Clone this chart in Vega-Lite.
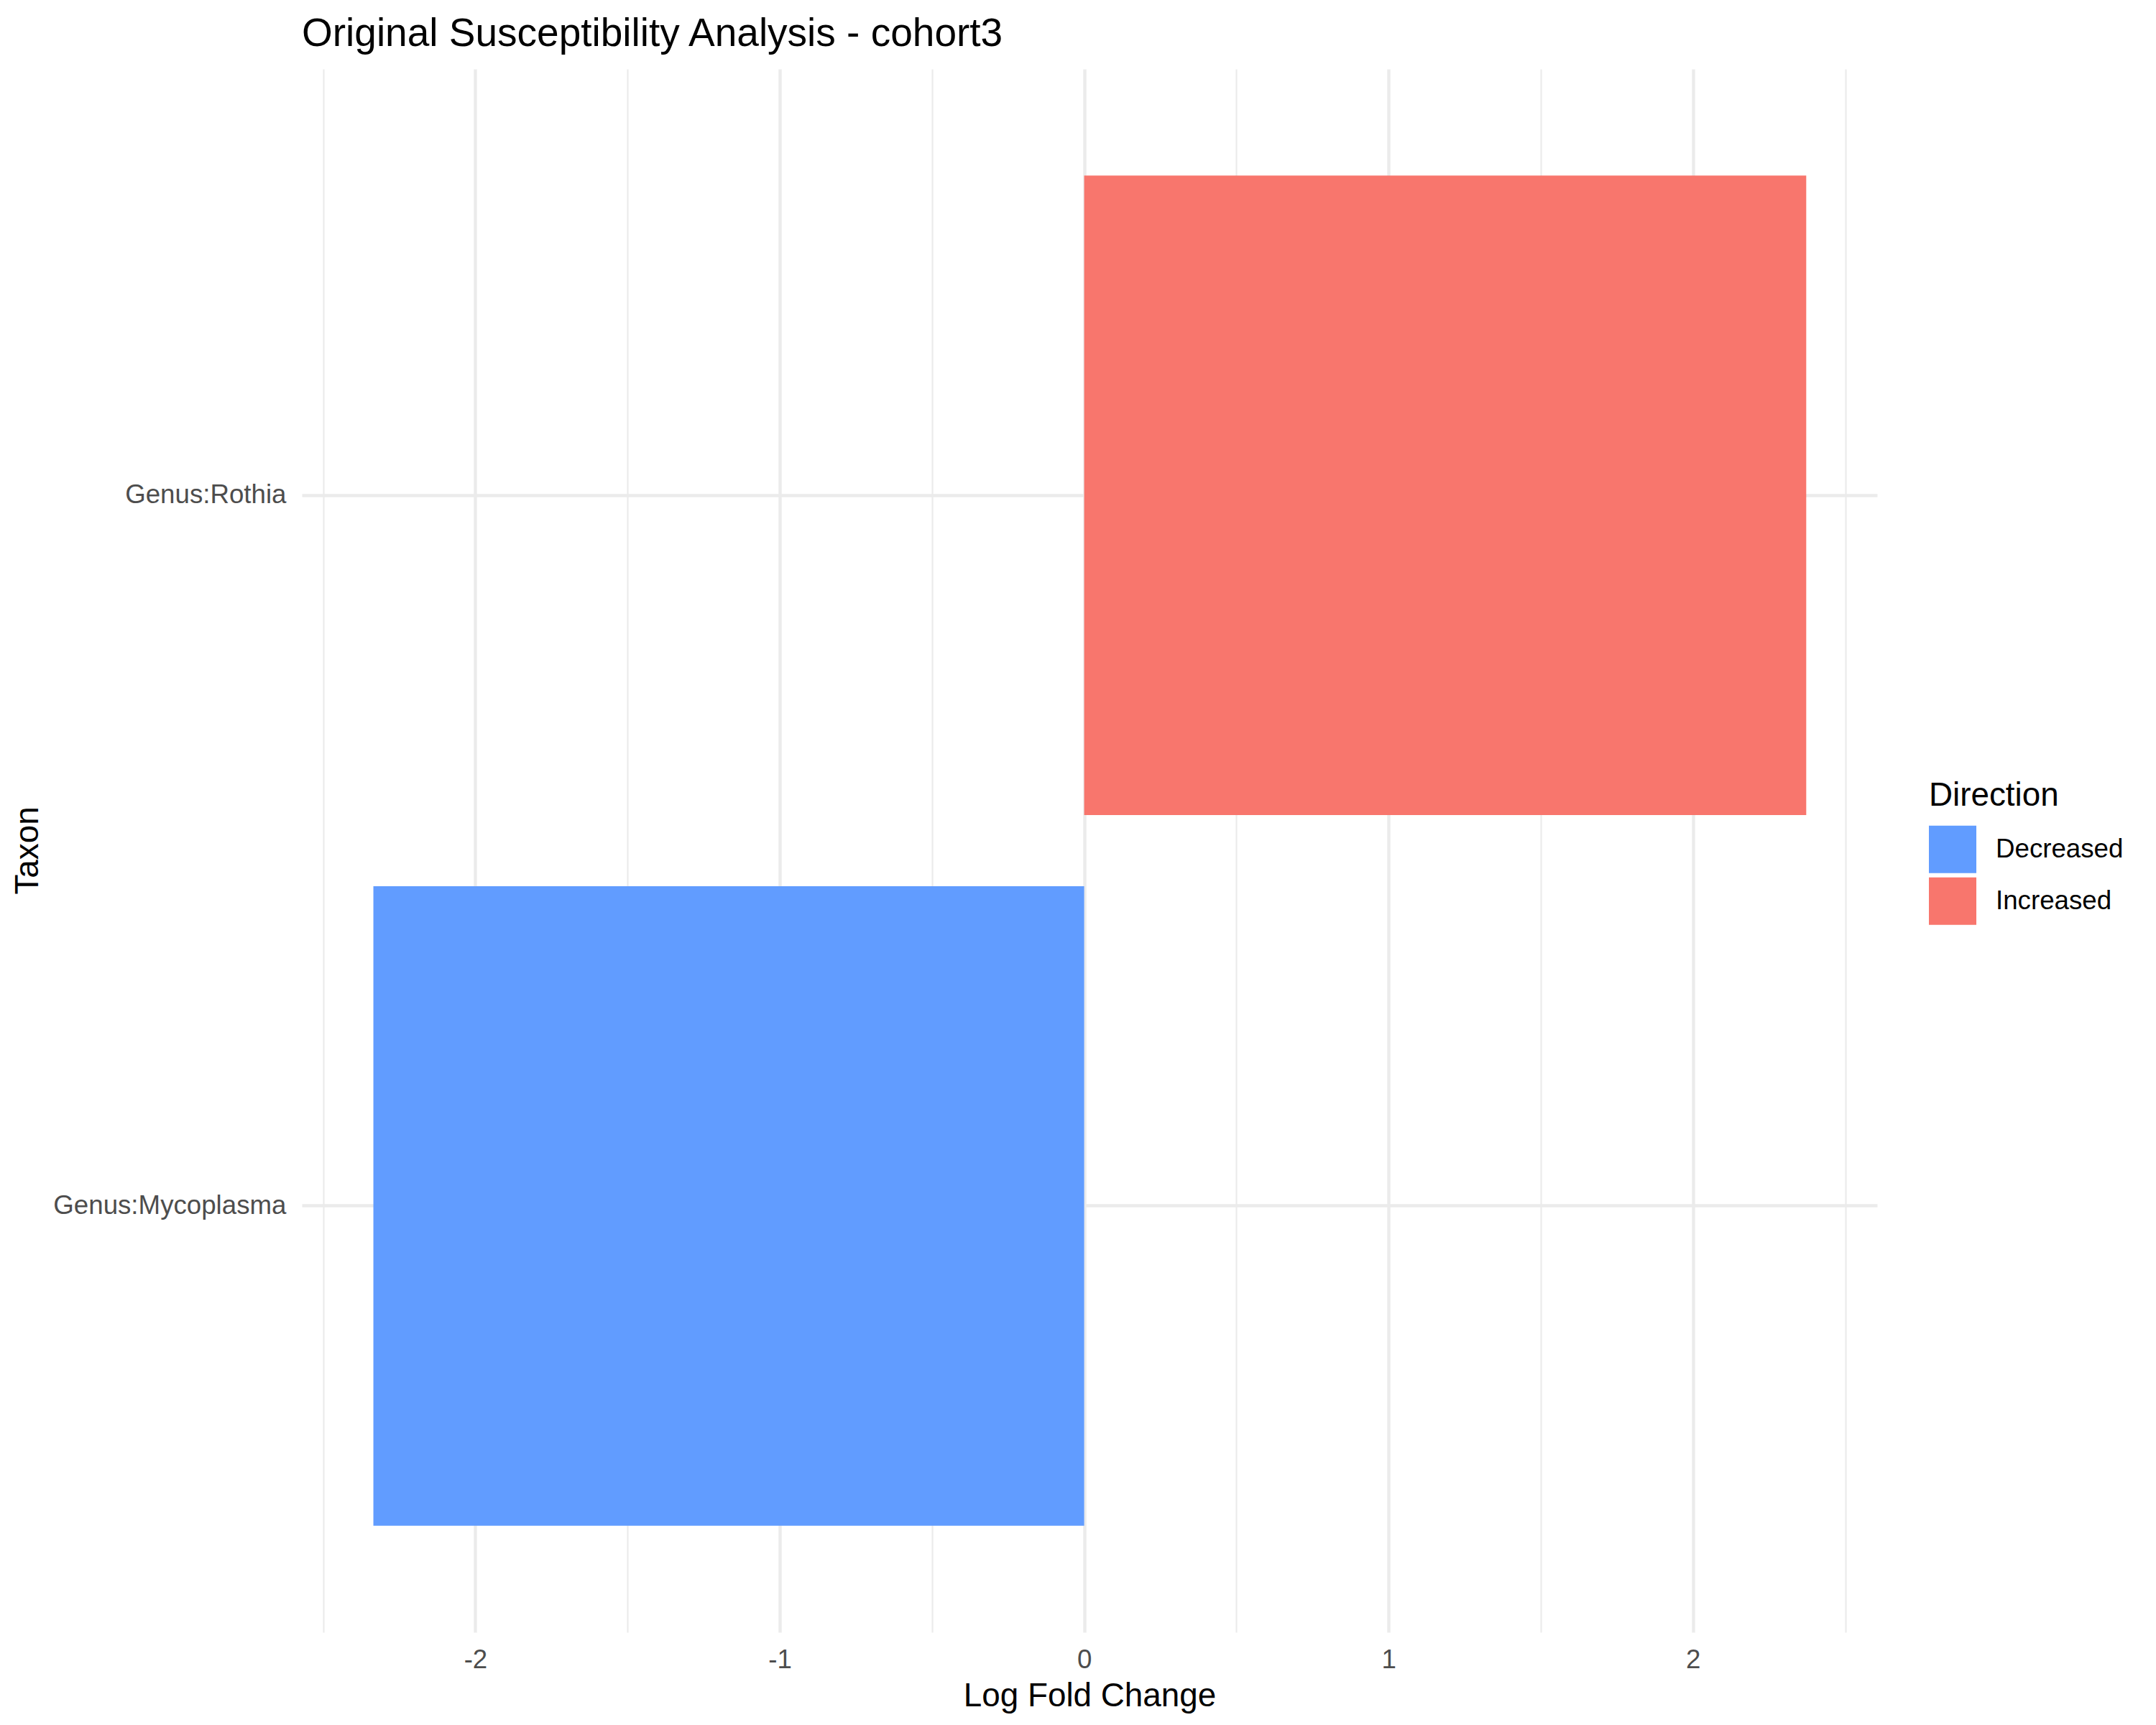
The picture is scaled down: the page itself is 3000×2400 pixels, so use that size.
{
  "$schema": "https://vega.github.io/schema/vega-lite/v6.json",
  "width": 2192,
  "height": 2175,
  "autosize": {"type": "none"},
  "padding": {"left": 420, "top": 96, "right": 388, "bottom": 129},
  "background": "white",
  "title": {
    "text": "Original Susceptibility Analysis - cohort3",
    "anchor": "start",
    "frame": "group",
    "font": "Liberation Sans",
    "fontSize": 55,
    "fontWeight": "normal",
    "color": "black",
    "baseline": "alphabetic",
    "offset": -23,
    "limit": 2000
  },
  "data": {
    "values": [
      {"taxon": "Genus:Rothia", "lfc": 2.372, "direction": "Increased"},
      {"taxon": "Genus:Mycoplasma", "lfc": -2.335, "direction": "Decreased"}
    ]
  },
  "mark": {"type": "bar"},
  "encoding": {
    "y": {
      "field": "taxon",
      "type": "nominal",
      "sort": ["Genus:Rothia", "Genus:Mycoplasma"],
      "scale": {"paddingInner": 0.1, "paddingOuter": 0.15},
      "axis": {
        "title": "Taxon",
        "grid": true,
        "gridColor": "#EBEBEB",
        "gridWidth": 4.4,
        "bandPosition": 0.5,
        "ticks": false,
        "domain": false,
        "labelFont": "Liberation Sans",
        "labelFontSize": 36.7,
        "labelColor": "#4D4D4D",
        "labelPadding": 22,
        "labelLimit": 1000,
        "titleFont": "Liberation Sans",
        "titleFontSize": 45.8,
        "titleFontWeight": "normal",
        "titleColor": "black",
        "titleBaseline": "middle",
        "titleX": -382,
        "titleY": 1087,
        "titleAngle": -90
      }
    },
    "x": {
      "field": "lfc",
      "type": "quantitative",
      "scale": {"domain": [-2.57, 2.605], "nice": false, "zero": false},
      "axis": {
        "title": "Log Fold Change",
        "values": [-2.5, -2, -1.5, -1, -0.5, 0, 0.5, 1, 1.5, 2, 2.5],
        "labelExpr": "datum.value % 1 == 0 ? toString(datum.value) : ''",
        "grid": true,
        "gridColor": "#EBEBEB",
        "gridWidth": {"condition": {"test": "datum.value % 1 != 0", "value": 2.2}, "value": 4.4},
        "ticks": false,
        "domain": false,
        "labelFont": "Liberation Sans",
        "labelFontSize": 36.7,
        "labelColor": "#4D4D4D",
        "labelPadding": 20,
        "titleFont": "Liberation Sans",
        "titleFontSize": 45.8,
        "titleFontWeight": "normal",
        "titleColor": "black",
        "titlePadding": 10
      }
    },
    "color": {
      "field": "direction",
      "type": "nominal",
      "scale": {"domain": ["Decreased", "Increased"], "range": ["#619CFF", "#F8766D"]},
      "legend": {
        "orient": "none",
        "legendX": 2264,
        "legendY": 989,
        "title": "Direction",
        "titleFont": "Liberation Sans",
        "titleFontSize": 45.8,
        "titleFontWeight": "normal",
        "titleColor": "black",
        "titlePadding": 18,
        "titleLimit": 1000,
        "labelFont": "Liberation Sans",
        "labelFontSize": 36.7,
        "labelColor": "black",
        "labelOffset": 27,
        "labelLimit": 1000,
        "symbolType": "square",
        "symbolSize": 4356,
        "symbolStrokeWidth": 0,
        "symbolOpacity": 1,
        "rowPadding": 6
      }
    }
  },
  "config": {"view": {"stroke": null}}
}
